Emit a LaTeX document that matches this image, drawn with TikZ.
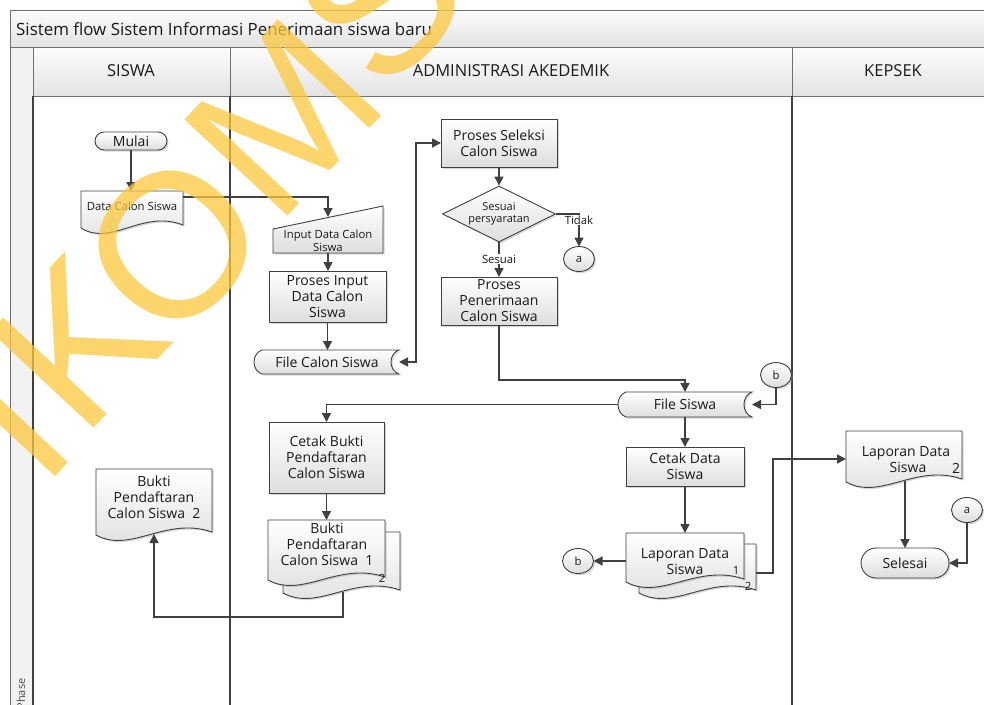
\documentclass[tikz,border=0pt]{standalone}
\usepackage{fontspec}
\setmainfont{Open Sans}
\newfontfamily\wmfont{Liberation Sans}
\usetikzlibrary{arrows.meta,shapes.geometric,shadows,calc}
\definecolor{ln}{HTML}{404040}
\definecolor{frm}{HTML}{707070}
\definecolor{wm}{RGB}{251,199,61}
\definecolor{txt}{HTML}{1A1A1A}
\tikzset{
  shp/.style={draw=ln, line width=0.9pt, top color=white, bottom color=black!13,
    drop shadow={shadow xshift=1.6pt, shadow yshift=-1.6pt, opacity=0.35, fill=black!45}},
  proc/.style={shp, rectangle, inner sep=0pt, outer sep=0pt, align=center,
    font=\fontsize{14}{16}\selectfont, text=txt},
  term/.style={proc},
  abox/.style={rectangle, draw=none, inner sep=0pt, outer sep=0pt},
  lbl/.style={inner sep=0pt, outer sep=0pt, align=center, text=txt, font=\fontsize{14}{16}\selectfont},
  small/.style={inner sep=0pt, outer sep=0pt, align=center, text=txt, font=\fontsize{11.3}{12.5}\selectfont},
  conref/.style={shp, ellipse, inner sep=0pt, outer sep=0pt, minimum width=31pt, minimum height=25pt,
    text=txt, font=\fontsize{11.3}{12.5}\selectfont},
  conn/.style={draw=ln, line width=1.4pt, -{Triangle[length=9pt,width=9pt]}},
  hdr/.style={draw=frm, line width=1pt, top color=black!1, bottom color=black!11},
  hdrtxt/.style={inner sep=0pt, text=txt, font=\fontsize{16.5}{18}\selectfont},
  lane/.style={draw=ln, line width=1.4pt},
  wml/.style={inner sep=0pt, outer sep=0pt, text=wm, text opacity=0.75,
    font=\wmfont\fontsize{50}{50}\selectfont, rotate=47, scale=4.1, transform shape}
}
\newcommand\docshape[5]{%
  \path[shp] (#2,#3) -- (#4,#3) -- (#4,{#5-2}) .. controls ({#2+0.6*(#4-#2)},{#5-18}) and ({#2+0.3*(#4-#2)},{#5+20}) .. (#2,{#5+1}) -- cycle;
  \node[abox, minimum width={(#4-#2)*1pt}, minimum height={(#5-#3)*1pt}] (#1) at ({(#2+#4)/2},{(#3+#5)/2}) {};
}
\newcommand\storeshape[5]{%
  \path[shp] ({#2+8},#3) -- (#4,#3) .. controls ({#4-10.7},{#3+0.15*(#5-#3)}) and ({#4-10.7},{#5-0.15*(#5-#3)}) .. (#4,#5)
    -- ({#2+8},#5) .. controls ({#2-2.7},{#5-0.15*(#5-#3)}) and ({#2-2.7},{#3+0.15*(#5-#3)}) .. ({#2+8},#3) -- cycle;
  \node[abox, minimum width={(#4-#2)*1pt}, minimum height={(#5-#3)*1pt}] (#1) at ({(#2+#4)/2},{(#3+#5)/2}) {};
}
\newcommand\manshape[6]{%
  \path[shp] (#2,#3) -- (#4,#5) -- (#4,#6) -- (#2,#6) -- cycle;
  \node[abox, minimum width={(#4-#2)*1pt}, minimum height={(#6-#5)*1pt}] (#1) at ({(#2+#4)/2},{(#5+#6)/2}) {};
}
\begin{document}
\begin{tikzpicture}[x=1pt,y=-1pt]
\useasboundingbox (0,0) rectangle (984,704);
\clip (0,0) rectangle (984,704);
\fill[white] (0,0) rectangle (984,704);
% frame
\path[hdr] (10,10) rectangle (1000,47);
\node[hdrtxt, anchor=west, font=\fontsize{16.9}{20}\selectfont] (title) at (16,29) {Sistem flow Sistem Informasi Penerimaan siswa baru};
\path[draw=frm, line width=1pt, fill=black!5] (10,47) rectangle (33,720);
\node[small, rotate=90, font=\fontsize{11}{12}\selectfont, text=black!70] (phase) at (21,694) {Phase};
\path[hdr] (33,47) rectangle (230,96);
\path[hdr] (230,47) rectangle (792,96);
\path[hdr] (792,47) rectangle (1000,96);
\node[hdrtxt] (h1) at (131,71) {SISWA};
\node[hdrtxt] (h2) at (511,71) {ADMINISTRASI AKEDEMIK};
\node[hdrtxt] (h3) at (893,71) {KEPSEK};
\draw[lane] (33,96) -- (33,710);
\draw[lane] (230,96) -- (230,710);
\draw[lane] (792,96) -- (792,710);

% shapes
\node[term, rounded corners=9pt, minimum width=72pt, minimum height=18pt] (mulai) at (131,141) {Mulai};
\docshape{dc}{81}{191}{183}{227}
\node[small] (dct) at (132,206) {Data Calon Siswa};
\manshape{inp}{273}{229}{383}{206}{253}
\node[small] (inpt) at (328,241) {Input Data Calon\\Siswa};
\node[proc, minimum width=117pt, minimum height=51pt] (pinput) at (327.5,296.5) {Proses Input\\Data Calon\\Siswa};
\storeshape{fcalon}{254}{350}{399}{374}
\node[lbl] (fcalont) at (327,362) {File Calon Siswa};
\node[proc, minimum width=116pt, minimum height=48pt] (psel) at (499,143) {Proses Seleksi\\Calon Siswa};
\node[shp, diamond, shape aspect=2, inner sep=0pt, minimum width=113pt, minimum height=56pt, align=center, text=txt,
  font=\fontsize{11}{12.5}\selectfont] (dia) at (499,214) {Sesuai\\persyaratan};
\node[conref] (ca) at (579,259) {a};
\node[proc, minimum width=116pt, minimum height=48pt] (ppen) at (499,301) {Proses\\Penerimaan\\Calon Siswa};
\node[conref] (cb) at (776,375) {b};
\storeshape{fsiswa}{618}{392}{752}{417}
\node[lbl] (fsiswat) at (685,404.5) {File Siswa};
\node[proc, minimum width=115pt, minimum height=71pt] (cbukti) at (326.5,457.5) {Cetak Bukti\\Pendaftaran\\Calon Siswa};
\docshape{bbk}{283}{532}{400}{592}
\docshape{bfr}{268}{520}{385}{579}
\node[lbl] (bfrt) at (327,544) {Bukti\\Pendaftaran\\Calon Siswa\ \ 1};
\node[small] (bbkt) at (382,578) {2};
\docshape{bk2}{96}{469}{212}{534}
\node[lbl] (bk2t) at (154,497.5) {Bukti\\Pendaftaran\\Calon Siswa\ \ 2};
\node[proc, minimum width=118pt, minimum height=39pt] (cdata) at (685,466.5) {Cetak Data\\Siswa};
\docshape{lbk}{639}{544}{756}{592}
\docshape{lfr}{626}{533}{744}{581}
\node[lbl] (lfrt) at (685,561.5) {Laporan Data\\Siswa};
\node[small] (lfrn) at (736,570) {1};
\node[small] (lbkn) at (748,586) {2};
\node[conref] (cb2) at (578,561) {b};
\docshape{lap2}{846}{431}{962}{481}
\node[lbl] (lap2t) at (906,460) {Laporan Data\\\hspace*{4pt}Siswa};
\node[lbl] (lap2n) at (956,468) {2};
\node[term, rounded corners=15pt, minimum width=88pt, minimum height=30pt] (sel) at (905,563) {Selesai};
\node[conref] (ca2) at (967,510) {a};

% connectors
\coordinate (inTop) at (328,217);
\draw[conn] (mulai.south) -- (mulai.south |- dc.north);
\draw[conn] ([yshift=-6pt]dc.north east) -| (inTop);
\draw[conn] (inp.south) -- (inp.south |- pinput.north);
\draw[conn] (pinput.south) -- (pinput.south |- fcalon.north);
\draw[conn, {Triangle[length=9pt,width=9pt]}-{Triangle[length=9pt,width=9pt]}] (fcalon.east) -- ++(17,0) |- (psel.west);
\draw[conn] (psel.south) -- (dia.north);
\draw[conn] (dia.east) -| (ca.north);
\draw[conn] (dia.south) -- (ppen.north);
\node[small, fill=white, inner sep=1pt] (tidak) at (579,220) {Tidak};
\node[small, fill=white, inner sep=1pt] (sesuai) at (499,259) {Sesuai};
\draw[conn] (ppen.south) -- ++(0,55) -| (fsiswa.north);
\draw[conn] (cb.south) |- (fsiswa.east);
\draw[conn] (fsiswa.west) -| (cbukti.north);
\draw[conn] (cbukti.south) -- (cbukti.south |- bfr.north);
\draw[conn] ([xshift=1.5pt]bbk.south) -- ++(0,25) -| (bk2.south);
\draw[conn] (fsiswa.south) -- (cdata.north);
\draw[conn] (cdata.south) -- (lfr.north);
\draw[conn] (lfr.west |- cb2.east) -- (cb2.east);
\draw[conn] ([yshift=-5pt]lbk.east) -- ++(17,0) |- ([yshift=-3pt]lap2.west);
\draw[conn] (lap2.south -| sel.north) -- (sel.north);
\draw[conn] (ca2.south) |- (sel.east);

% watermark
\node[wml] (wm1) at (10,422) {I};
\node[wml] (wm2) at (78,342) {K};
\node[wml] (wm3) at (173,245) {O};
\node[wml] (wm4) at (283,118) {M};
\node[wml] (wm5) at (380,0) {S};
\end{tikzpicture}
\end{document}
